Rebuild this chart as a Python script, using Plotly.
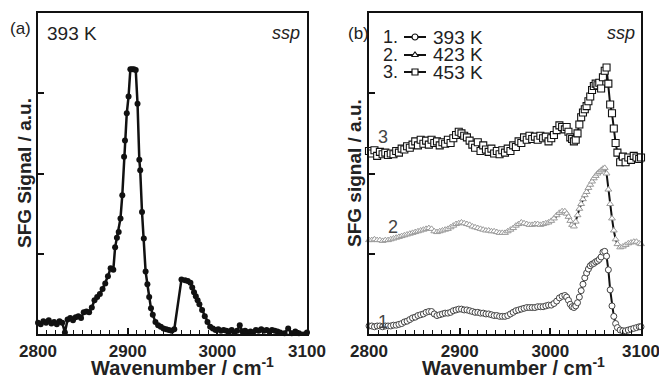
import plotly.graph_objects as go

# ---------------- data ----------------
# (a) 393 K, ssp
a_x = [2800, 2803, 2806, 2809, 2812, 2815, 2818, 2821, 2824, 2827, 2830, 2833, 2836, 2839, 2842, 2845,
       2848, 2851, 2854, 2857, 2860, 2863, 2866, 2869, 2872, 2875, 2878, 2881, 2884, 2886, 2888, 2890,
       2892, 2894, 2896, 2897, 2899, 2901, 2903, 2905, 2907, 2909, 2911, 2913, 2914, 2916, 2918, 2920,
       2922, 2924, 2926, 2928, 2931, 2934, 2937, 2940, 2943, 2946, 2949, 2952, 2960, 2964, 2967, 2970,
       2972, 2974, 2976, 2978, 2980, 2983, 2986, 2989, 2992, 2995, 2998, 3001, 3004, 3007, 3010, 3013,
       3016, 3019, 3022, 3025, 3028, 3031, 3034, 3037, 3040, 3043, 3046, 3049, 3052, 3055, 3058, 3061,
       3064, 3067, 3070, 3075, 3079, 3083, 3087, 3091, 3100]
a_y = [0.14, 0.12, 0.16, 0.14, 0.17, 0.13, 0.15, 0.12, 0.16, 0.14, 0.02, 0.18, 0.20, 0.17, 0.21, 0.22,
       0.20, 0.27, 0.28, 0.27, 0.33, 0.42, 0.46, 0.50, 0.56, 0.63, 0.72, 0.82, 0.80, 1.08, 1.20, 1.27,
       1.44, 1.73, 2.21, 2.41, 2.75, 2.96, 3.30, 3.30, 3.30, 3.29, 2.87, 2.17, 2.04, 1.52, 1.19, 0.78,
       0.62, 0.46, 0.32, 0.24, 0.15, 0.11, 0.09, 0.07, 0.06, 0.05, 0.04, 0.06, 0.68, 0.67, 0.66, 0.64,
       0.58, 0.52, 0.47, 0.42, 0.37, 0.30, 0.22, 0.15, 0.09, 0.07, 0.05, 0.06, 0.04, 0.05, 0.04, 0.03,
       0.05, 0.02, 0.04, 0.11, 0.03, 0.04, 0.02, 0.03, 0.02, 0.05, 0.04, 0.06, 0.04, 0.05, 0.03, 0.05,
       0.04, 0.03, 0.02, 0.01, 0.07, 0.01, 0.03, 0.01, 0.02]

# (b) common wavenumber grid
b_x = [2800, 2803, 2806, 2809, 2812, 2815, 2818, 2821, 2824, 2827, 2830, 2833, 2836, 2839, 2842, 2845,
       2848, 2851, 2854, 2857, 2860, 2863, 2866, 2869, 2872, 2875, 2878, 2881, 2884, 2887, 2890, 2893,
       2896, 2899, 2902, 2905, 2908, 2911, 2914, 2917, 2920, 2923, 2926, 2929, 2932, 2935, 2938, 2941,
       2944, 2947, 2950, 2953, 2956, 2959, 2962, 2965, 2968, 2971, 2974, 2977, 2980, 2983, 2986, 2989,
       2992, 2995, 2998, 3001, 3004, 3007, 3010, 3013, 3016, 3018, 3020, 3022, 3024, 3026, 3028, 3030,
       3032, 3034, 3036, 3038, 3040, 3042, 3044, 3046, 3048, 3050, 3052, 3054, 3056, 3058, 3060, 3062,
       3064, 3066, 3068, 3070, 3072, 3074, 3077, 3080, 3083, 3086, 3089, 3092, 3095, 3098, 3100]
# 1. 393 K
b1_y = [0.10, 0.10, 0.09, 0.10, 0.10, 0.09, 0.10, 0.10, 0.10, 0.11, 0.11, 0.12, 0.13, 0.15, 0.16, 0.18,
        0.20, 0.21, 0.23, 0.24, 0.25, 0.27, 0.28, 0.28, 0.25, 0.23, 0.24, 0.25, 0.26, 0.26, 0.27, 0.29,
        0.30, 0.31, 0.31, 0.30, 0.30, 0.29, 0.28, 0.27, 0.27, 0.26, 0.26, 0.25, 0.25, 0.24, 0.23, 0.23,
        0.22, 0.22, 0.22, 0.23, 0.25, 0.27, 0.29, 0.30, 0.31, 0.32, 0.33, 0.33, 0.33, 0.33, 0.34, 0.34,
        0.34, 0.35, 0.36, 0.36, 0.38, 0.41, 0.45, 0.47, 0.48, 0.46, 0.42, 0.37, 0.34, 0.33, 0.35, 0.39,
        0.46, 0.54, 0.62, 0.70, 0.76, 0.81, 0.85, 0.87, 0.88, 0.90, 0.91, 0.93, 0.96, 1.02, 1.03, 0.97,
        0.80, 0.55, 0.35, 0.22, 0.13, 0.08, 0.05, 0.04, 0.04, 0.05, 0.06, 0.07, 0.08, 0.09, 0.09]
# 2. 423 K
b2_y = [1.17, 1.17, 1.18, 1.17, 1.17, 1.16, 1.17, 1.17, 1.18, 1.19, 1.20, 1.21, 1.22, 1.23, 1.24, 1.25,
        1.26, 1.27, 1.28, 1.29, 1.30, 1.31, 1.32, 1.31, 1.28, 1.27, 1.28, 1.29, 1.30, 1.31, 1.33, 1.35,
        1.37, 1.38, 1.39, 1.38, 1.37, 1.36, 1.34, 1.33, 1.32, 1.31, 1.30, 1.29, 1.29, 1.28, 1.28, 1.27,
        1.26, 1.26, 1.26, 1.28, 1.30, 1.32, 1.35, 1.37, 1.39, 1.38, 1.37, 1.36, 1.36, 1.37, 1.37, 1.36,
        1.37, 1.38, 1.39, 1.41, 1.44, 1.48, 1.51, 1.53, 1.53, 1.50, 1.46, 1.41, 1.36, 1.34, 1.40, 1.48,
        1.56, 1.62, 1.68, 1.73, 1.77, 1.82, 1.86, 1.90, 1.94, 1.97, 2.00, 2.02, 2.04, 2.06, 2.07, 2.00,
        1.80, 1.62, 1.44, 1.29, 1.18, 1.12, 1.08, 1.09, 1.11, 1.13, 1.14, 1.15, 1.15, 1.13, 1.12]
# 3. 453 K
b3_y = [2.28, 2.25, 2.29, 2.22, 2.27, 2.24, 2.26, 2.23, 2.25, 2.24, 2.28, 2.26, 2.31, 2.30, 2.34, 2.32,
        2.36, 2.40, 2.35, 2.42, 2.37, 2.41, 2.36, 2.42, 2.38, 2.40, 2.35, 2.39, 2.37, 2.42, 2.38, 2.44,
        2.48, 2.52, 2.50, 2.47, 2.45, 2.41, 2.36, 2.32, 2.39, 2.28, 2.35, 2.30, 2.27, 2.31, 2.25, 2.28,
        2.24, 2.29, 2.26, 2.31, 2.28, 2.35, 2.33, 2.40, 2.38, 2.45, 2.42, 2.47, 2.43, 2.46, 2.42, 2.47,
        2.44, 2.46, 2.40, 2.44, 2.48, 2.54, 2.60, 2.58, 2.55, 2.58, 2.52, 2.45, 2.43, 2.40, 2.42, 2.50,
        2.61, 2.70, 2.76, 2.80, 2.84, 2.90, 2.96, 3.04, 3.09, 3.12, 3.10, 3.13, 3.06, 3.20, 3.28, 3.32,
        3.12, 2.86, 2.75, 2.56, 2.38, 2.26, 2.14, 2.21, 2.14, 2.20, 2.17, 2.22, 2.20, 2.18, 2.20]

series_names = ["393 K", "423 K", "453 K"]
series_nums = ["1.", "2.", "3."]
curve_labels = ["1", "2", "3"]
curve_label_x = [2815, 2826, 2815]
curve_label_y = [0.15, 1.33, 2.45]

x_ticks = [2800, 2900, 3000, 3100]
y_ticks = [1, 2, 3]

# ---------------- style / layout ----------------
FONT = "Liberation Sans, Arial, Helvetica, sans-serif"
TXT = "#222222"
W, H = 659, 379
L1, R1 = 38, 307
L2, R2 = 369, 641
TOP, BOT = 13, 334
X0, X1 = 2800, 3100
Y0, Y1 = 0, 4


def px(x):
    return x / W


def py(y):
    return 1 - y / H


def to_x2(pxl):  # pixel -> panel (b) data x (for legend decoration placement)
    return X0 + (pxl - L2) / (R2 - L2) * (X1 - X0)


def to_y2(pyl):
    return Y0 + (BOT - pyl) / (BOT - TOP) * (Y1 - Y0)


fig = go.Figure()

fig.add_trace(go.Scatter(
    x=a_x, y=a_y, mode="lines+markers", xaxis="x", yaxis="y",
    line=dict(color="#111111", width=2.5),
    marker=dict(symbol="circle", size=6, color="#111111"),
    cliponaxis=False, showlegend=False))

styles = [
    dict(symbol="circle", size=6, color="white", line=dict(color="#444444", width=1)),
    dict(symbol="triangle-up", size=6, color="white", line=dict(color="#9a9a9a", width=1)),
    dict(symbol="square", size=7, color="white", line=dict(color="#111111", width=1.1)),
]
for ys, st in zip([b1_y, b2_y, b3_y], styles):
    fig.add_trace(go.Scatter(
        x=b_x, y=ys, mode="lines+markers", xaxis="x2", yaxis="y2",
        line=dict(color="#111111", width=2),
        marker=st, cliponaxis=False, showlegend=False))

# hand-drawn legend inside panel (b)
leg_rows = [37, 55, 72]
leg_line_x0, leg_line_x1 = 404, 426
for row, st in zip(leg_rows, styles):
    fig.add_trace(go.Scatter(
        x=[to_x2(leg_line_x0), to_x2((leg_line_x0 + leg_line_x1) / 2), to_x2(leg_line_x1)],
        y=[to_y2(row)] * 3, mode="lines", xaxis="x2", yaxis="y2",
        line=dict(color="#111111", width=2), showlegend=False, hoverinfo="skip"))
    fig.add_trace(go.Scatter(
        x=[to_x2((leg_line_x0 + leg_line_x1) / 2)], y=[to_y2(row)], mode="markers",
        xaxis="x2", yaxis="y2",
        marker=dict(symbol=st["symbol"], size=6, color="white",
                    line=dict(color="#111111", width=1.2)),
        showlegend=False, hoverinfo="skip"))


def A(x, y, text, size, anchor="center", color=TXT, angle=0):
    return dict(x=px(x), y=py(y), xref="paper", yref="paper", text=text, showarrow=False,
                xanchor=anchor, yanchor="middle", textangle=angle,
                font=dict(family=FONT, size=size, color=color))


ann = []
for i, row in enumerate(leg_rows):
    ann.append(A(400, row, series_nums[i], 18, "right"))
    ann.append(A(431, row, series_names[i], 19, "left"))

for t, xx, yy in zip(curve_labels, curve_label_x, curve_label_y):
    ann.append(dict(x=xx, y=yy, xref="x2", yref="y2", text=t, showarrow=False,
                    xanchor="center", yanchor="middle",
                    font=dict(family=FONT, size=18, color="#444444")))

ann += [
    A(20, 29, "(a)", 17),
    A(359, 33, "(b)", 17),
    A(72, 33, "393 K", 19),
    A(286, 33, "<i>ssp</i>", 18),
    A(621, 33, "<i>ssp</i>", 18),
    A(182, 366, "<b>Wavenumber / cm<sup>-1</sup></b>", 20),
    A(513, 366, "<b>Wavenumber / cm<sup>-1</sup></b>", 20),
    A(24, 173, "<b>SFG Signal / a.u.</b>", 19, angle=-90),
    A(354, 173, "<b>SFG signal / a.u.</b>", 19, angle=-90),
]

xa = dict(range=[X0, X1], tickvals=x_ticks, ticks="inside", ticklen=6, tickwidth=1.5,
          tickcolor="#111111", showline=True, linecolor="#111111", linewidth=2, mirror=True,
          showgrid=False, zeroline=False, automargin=False, ticklabelstandoff=1,
          ticklabeloverflow="allow",
          tickfont=dict(family=FONT, size=17, color=TXT, weight="bold"),
          minor=dict(dtick=10, tick0=2800, ticks="inside", ticklen=4, tickwidth=1.3,
                     tickcolor="#111111", showgrid=False))
ya = dict(range=[Y0, Y1], tickvals=y_ticks, ticks="inside", ticklen=6, tickwidth=1.5,
          tickcolor="#111111", showticklabels=False, showline=True, linecolor="#111111",
          linewidth=2, mirror=True, showgrid=False, zeroline=False, automargin=False)

fig.update_layout(
    template="none",
    width=W, height=H, margin=dict(l=0, r=0, t=0, b=0, pad=0),
    paper_bgcolor="white", plot_bgcolor="white",
    xaxis=dict(xa, domain=[px(L1), px(R1)], anchor="y"),
    yaxis=dict(ya, domain=[py(BOT), py(TOP)], anchor="x"),
    xaxis2=dict(xa, domain=[px(L2), px(R2)], anchor="y2"),
    yaxis2=dict(ya, domain=[py(BOT), py(TOP)], anchor="x2"),
    annotations=ann, showlegend=False,
)

fig.write_html("out.html", config={"displayModeBar": False},
               post_script="document.body.style.margin='0';document.body.style.overflow='hidden';")
